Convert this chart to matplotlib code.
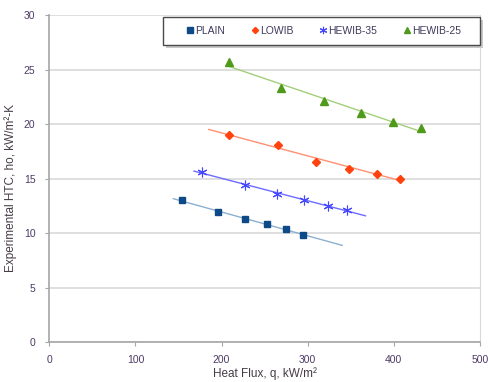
"""HTC versus heat flux for four tube types, with linear trend lines."""

import matplotlib.pyplot as plt
import numpy as np
from matplotlib.patches import Rectangle

plt.rcParams["font.family"] = ["Liberation Sans", "DejaVu Sans"]

# heat flux (kW/m2) and measured HTC (kW/m2-K) for each tube
plain_q = [154, 196, 227, 253, 275, 294]
plain_h = [13.0, 11.9, 11.3, 10.8, 10.4, 9.8]

lowib_q = [209, 266, 310, 348, 381, 407]
lowib_h = [19.0, 18.1, 16.5, 15.9, 15.4, 15.0]

hewib35_q = [177, 227, 264, 296, 323, 346]
hewib35_h = [15.6, 14.4, 13.6, 13.0, 12.5, 12.1]

hewib25_q = [209, 269, 319, 362, 399, 432]
hewib25_h = [25.7, 23.3, 22.1, 21.0, 20.2, 19.6]

# x range covered by each trend line
plain_fit_q = [144, 340]
lowib_fit_q = [185, 407]
hewib35_fit_q = [168, 367]
hewib25_fit_q = [207, 427]

TICK_COLOR = "#4d3a66"
LABEL_COLOR = "#463c46"

series = [
    ("PLAIN", plain_q, plain_h, plain_fit_q, "s", 5, 1.0, "#0d4a87", "#8cb0cf"),
    ("LOWIB", lowib_q, lowib_h, lowib_fit_q, "D", 4.2, 1.0, "#ff420e", "#ff8f73"),
    ("HEWIB-35", hewib35_q, hewib35_h, hewib35_fit_q, (6, 2, 0), 7, 0.8, "#4646ff", "#6c6cff"),
    ("HEWIB-25", hewib25_q, hewib25_h, hewib25_fit_q, "^", 6, 1.0, "#4f9a1a", "#a2cf7a"),
]

fig = plt.figure(figsize=(4.89, 3.82), dpi=100)
ax = fig.add_axes([0.1008, 0.1047, 0.8808, 0.856])

handles = []
for name, q, h, fit_q, marker, size, edge_w, color, line_color in series:
    slope, intercept = np.polyfit(q, h, 1)
    fx = np.array(fit_q, dtype=float)
    ax.plot(fx, slope * fx + intercept, color=line_color, lw=1.0, zorder=2)
    (mk,) = ax.plot(q, h, ls="none", marker=marker, ms=size, color=color,
                    mec=color, mew=edge_w, zorder=3, label=name)
    handles.append(mk)

ax.set_xlim(0, 500)
ax.set_ylim(0, 30)
ax.set_xticks(range(0, 501, 100))
ax.set_yticks(range(0, 31, 5))
ax.grid(axis="y", color="#d9d9d9", lw=1.2)
ax.set_axisbelow(True)
for side in ["left", "bottom"]:
    ax.spines[side].set_color("#a6a6a6")
    ax.spines[side].set_linewidth(1.2)
ax.spines["right"].set_color("#d9d9d9")
ax.spines["top"].set_visible(False)
ax.tick_params(axis="both", length=3, width=0.8, color="#a6a6a6",
               labelsize=7.5, labelcolor=TICK_COLOR, pad=6)
ax.tick_params(axis="y", pad=7)

ax.set_xlabel("Heat Flux, q, kW/m²", fontsize=8.5, color=LABEL_COLOR, labelpad=2)
ax.set_ylabel("Experimental HTC, ho, kW/m²-K", fontsize=8.5, color=LABEL_COLOR)
ax.yaxis.set_label_coords(-0.075, 0.47)

# legend box with a drop shadow, drawn in figure pixels
W, H = 489, 382
box_x0, box_x1, box_top, box_bot = 163, 480, 17, 45
shadow = Rectangle(((box_x0 + 3) / W, (H - box_bot - 3) / H),
                   (box_x1 - box_x0) / W, (box_bot - box_top) / H,
                   transform=fig.transFigure, facecolor="#c8c8c8",
                   edgecolor="none", zorder=5)
frame = Rectangle((box_x0 / W, (H - box_bot) / H),
                  (box_x1 - box_x0) / W, (box_bot - box_top) / H,
                  transform=fig.transFigure, facecolor="white",
                  edgecolor="#4a4a4a", lw=1.0, zorder=6)
fig.patches.extend([shadow, frame])

leg = fig.legend(handles=handles, loc="center",
                 bbox_to_anchor=(324 / W, (H - 31) / H), ncol=4, frameon=False,
                 fontsize=7.5, handlelength=0.6, handletextpad=0.15,
                 columnspacing=2.6, markerscale=0.75)
leg.set_zorder(7)
for t in leg.get_texts():
    t.set_color("#3e3a5c")

fig.savefig("out.png", dpi=100)
